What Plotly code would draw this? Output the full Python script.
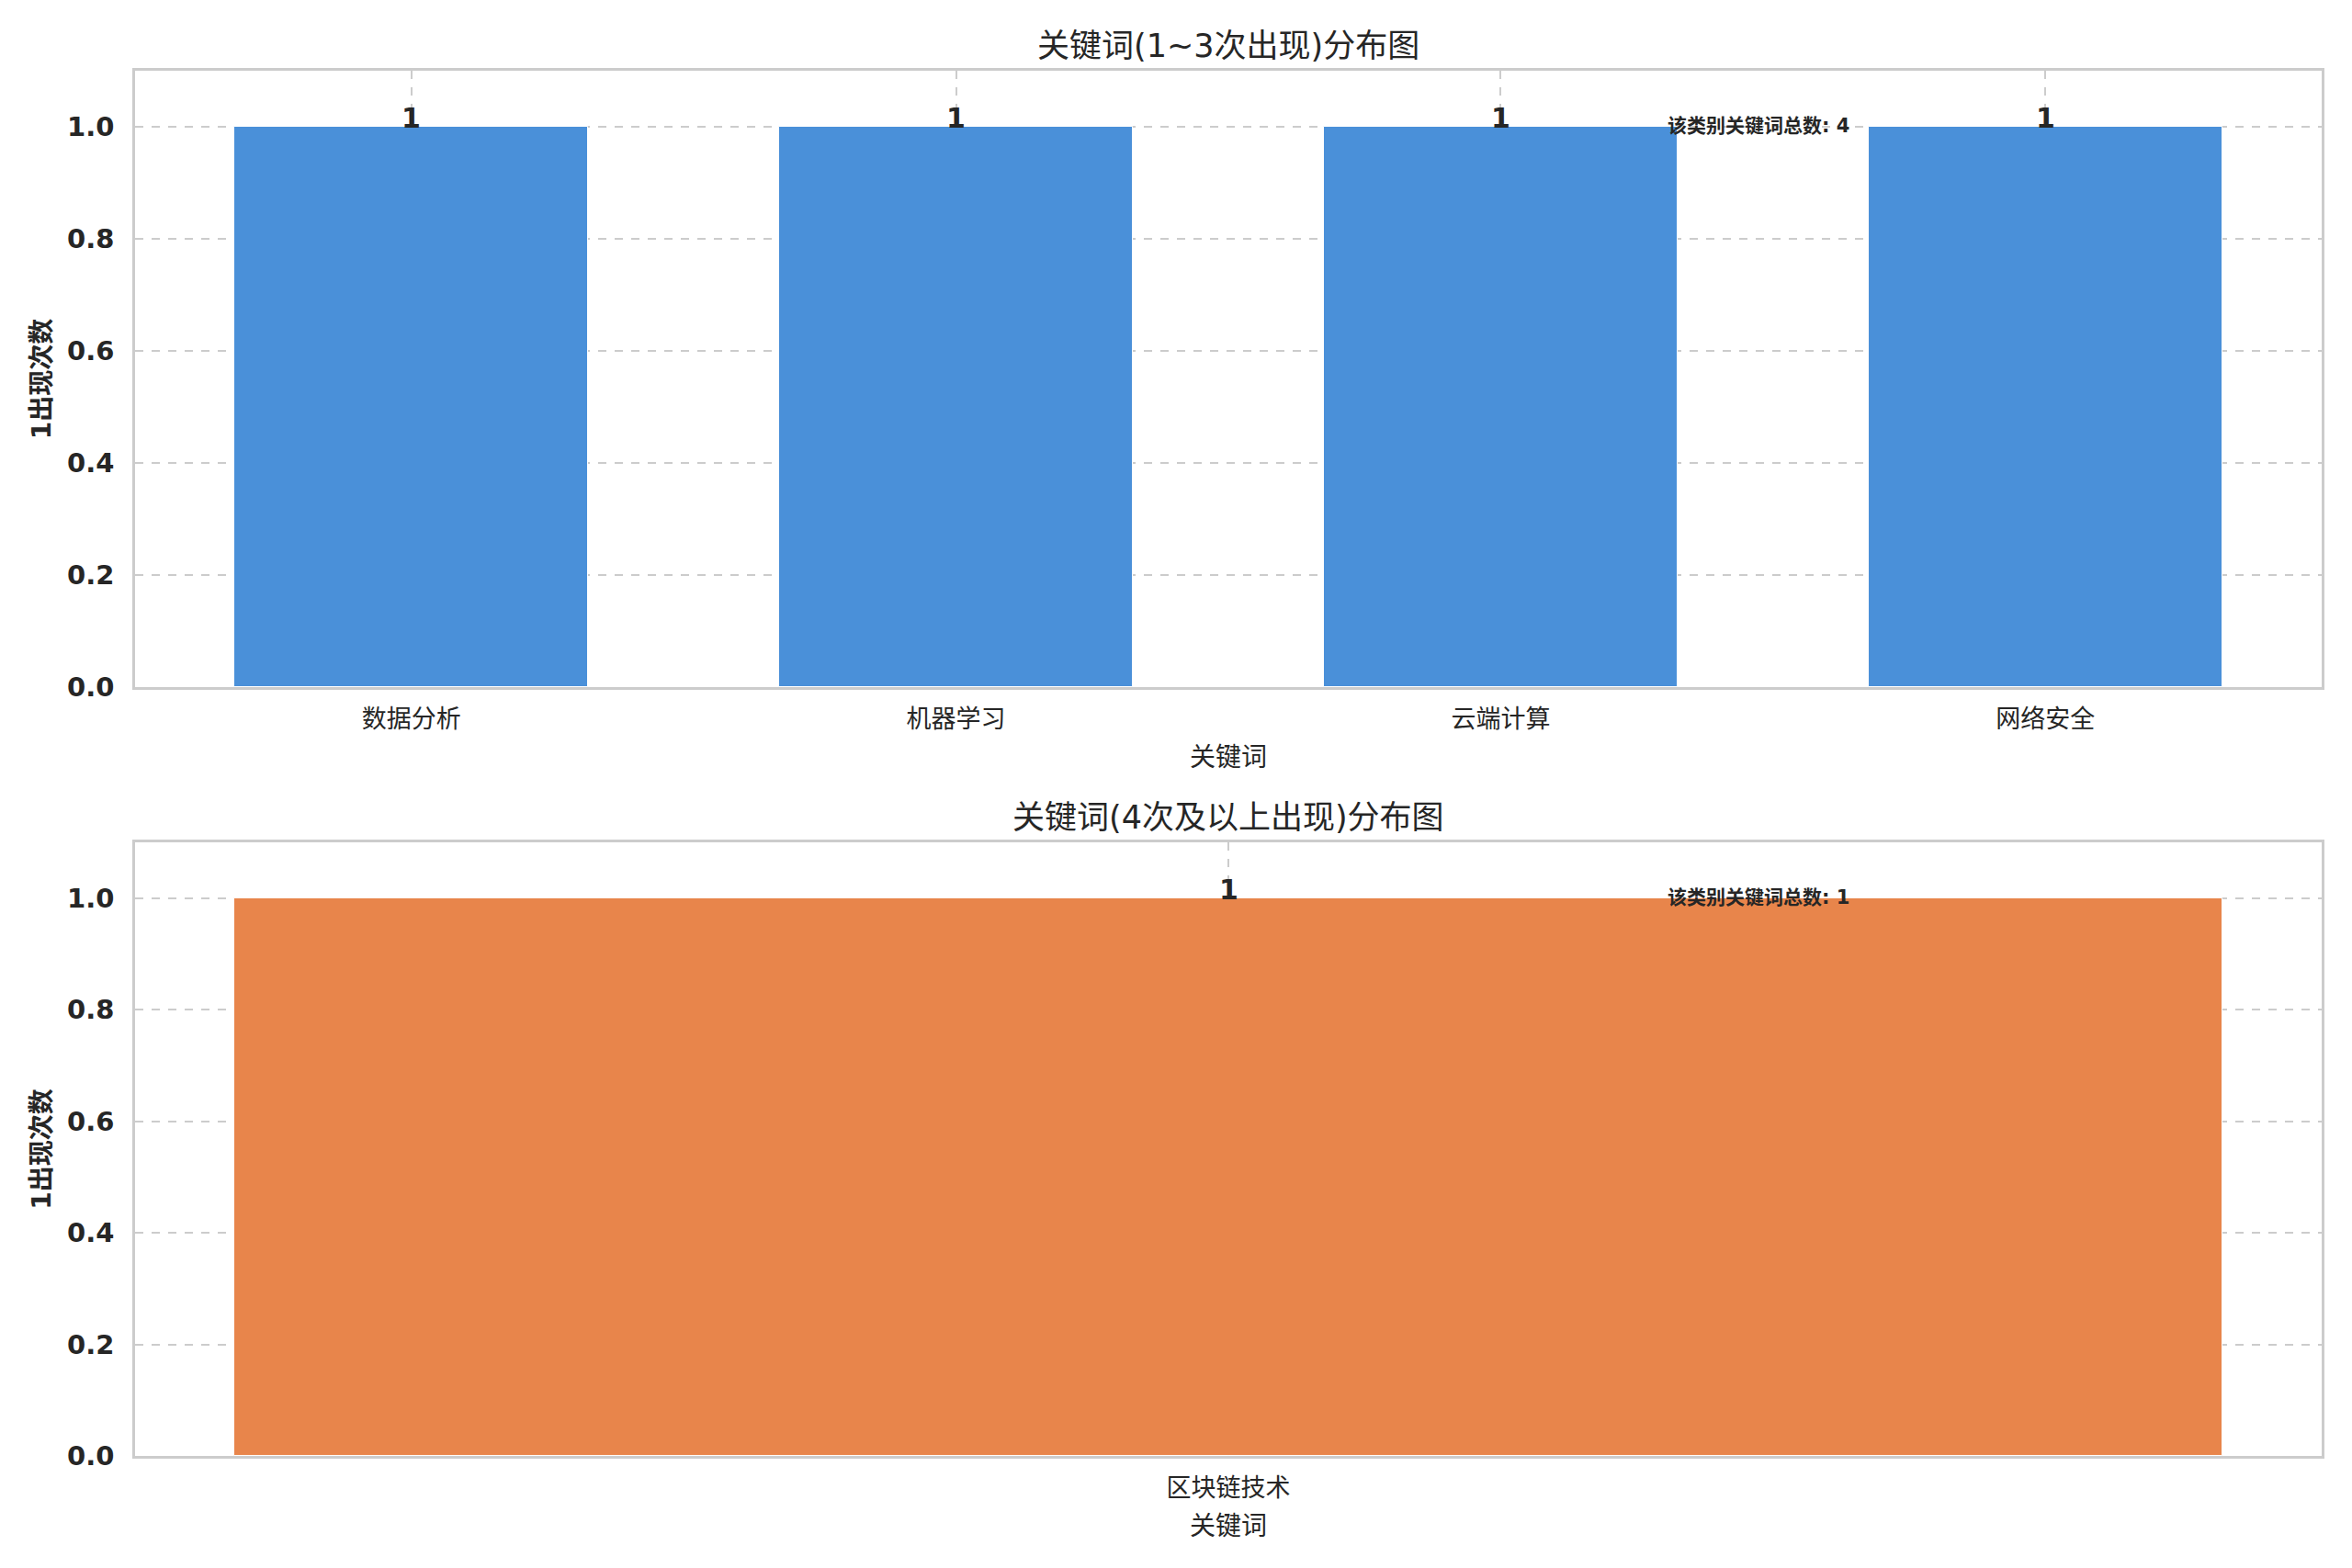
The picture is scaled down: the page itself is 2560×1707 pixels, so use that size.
import plotly.graph_objs as go

# keyword groups split by how often they occur
low_keywords = ["数据分析", "机器学习", "云端计算", "网络安全"]
low_counts = [1, 1, 1, 1]

high_keywords = ["区块链技术"]
high_counts = [1]

titles = ["关键词(1~3次出现)分布图", "关键词(4次及以上出现)分布图"]
x_title = "关键词"
y_title = "1出现次数"
total_label = "该类别关键词总数"

BLUE = "#4A90D9"
ORANGE = "#E8854B"
TEXT = "#262626"
GRID = "#cccccc"
FONT = "DejaVu Sans, Noto Sans CJK SC, sans-serif"
BAR_W = 0.65


def make_bar(names, values, color, xaxis, yaxis):
    return go.Bar(
        x=names, y=values, width=BAR_W, marker=dict(color=color, line=dict(color="#ffffff", width=1)),
        xaxis=xaxis, yaxis=yaxis, showlegend=False, hoverinfo="x+y",
    )


def axis_style(**kw):
    d = dict(showline=True, mirror=True, linecolor=GRID, linewidth=2.5,
             showgrid=True, gridcolor=GRID, griddash="dash", gridwidth=2, zeroline=False)
    d.update(kw)
    return d


fig = go.Figure()
fig.add_trace(make_bar(low_keywords, low_counts, BLUE, "x", "y"))
fig.add_trace(make_bar(high_keywords, high_counts, ORANGE, "x2", "y2"))

n_low = len(low_keywords)
pad_low = 0.05 * (n_low - 1 + BAR_W)
pad_high = 0.05 * BAR_W

xtick_font = dict(family=FONT, size=27, color=TEXT)
ytick_font = dict(family=FONT, size=29, color=TEXT, weight="bold")
xtitle = dict(text=x_title, font=dict(family=FONT, size=28, color=TEXT), standoff=18)
ytitle = dict(text=y_title, font=dict(family=FONT, size=28, color=TEXT, weight="bold"), standoff=10)

# page body has an 8px margin, so the figure is sized a bit smaller than the window
fig.update_layout(
    width=2544, height=1691,
    margin=dict(l=139, r=25, t=69, b=114),
    plot_bgcolor="white", paper_bgcolor="white",
    font=dict(family=FONT, color=TEXT),
    bargap=0,
    xaxis=axis_style(domain=[0, 1], anchor="y", type="category",
                     range=[-BAR_W / 2 - pad_low, n_low - 1 + BAR_W / 2 + pad_low],
                     tickfont=xtick_font, ticks="outside", ticklen=9, tickcolor="rgba(0,0,0,0)",
                     title=xtitle),
    yaxis=axis_style(domain=[0.555, 1], anchor="x", range=[0, 1.1], dtick=0.2, tickformat=".1f",
                     tickfont=ytick_font, ticks="outside", ticklen=14, tickcolor="rgba(0,0,0,0)",
                     title=ytitle),
    xaxis2=axis_style(domain=[0, 1], anchor="y2", type="category",
                      range=[-BAR_W / 2 - pad_high, BAR_W / 2 + pad_high],
                      tickfont=xtick_font, ticks="outside", ticklen=9, tickcolor="rgba(0,0,0,0)",
                      title=xtitle),
    yaxis2=axis_style(domain=[0, 0.443], anchor="x2", range=[0, 1.1], dtick=0.2, tickformat=".1f",
                      tickfont=ytick_font, ticks="outside", ticklen=14, tickcolor="rgba(0,0,0,0)",
                      title=ytitle),
)

# value labels, subplot titles and category totals
for i, (title, names, values) in enumerate(zip(titles, [low_keywords, high_keywords], [low_counts, high_counts])):
    xa = "x" if i == 0 else "x2"
    ya = "y" if i == 0 else "y2"
    for name, v in zip(names, values):
        fig.add_annotation(text=str(v), x=name, y=v, xref=xa, yref=ya, xanchor="center", yanchor="bottom",
                           yshift=-10, showarrow=False,
                           font=dict(family=FONT, size=30, color=TEXT, weight="bold"))
    fig.add_annotation(text=title, xref=xa + " domain", yref=ya + " domain", x=0.5, y=1,
                       xanchor="center", yanchor="bottom", yshift=5, showarrow=False,
                       font=dict(family=FONT, size=35, color=TEXT))
    fig.add_annotation(text=f"{total_label}: {len(names)}", xref=xa + " domain", yref=ya + " domain",
                       x=0.7, y=0.91, xanchor="left", yanchor="middle", showarrow=False,
                       font=dict(family=FONT, size=21, color=TEXT, weight="bold"))

fig.write_html("out.html")
